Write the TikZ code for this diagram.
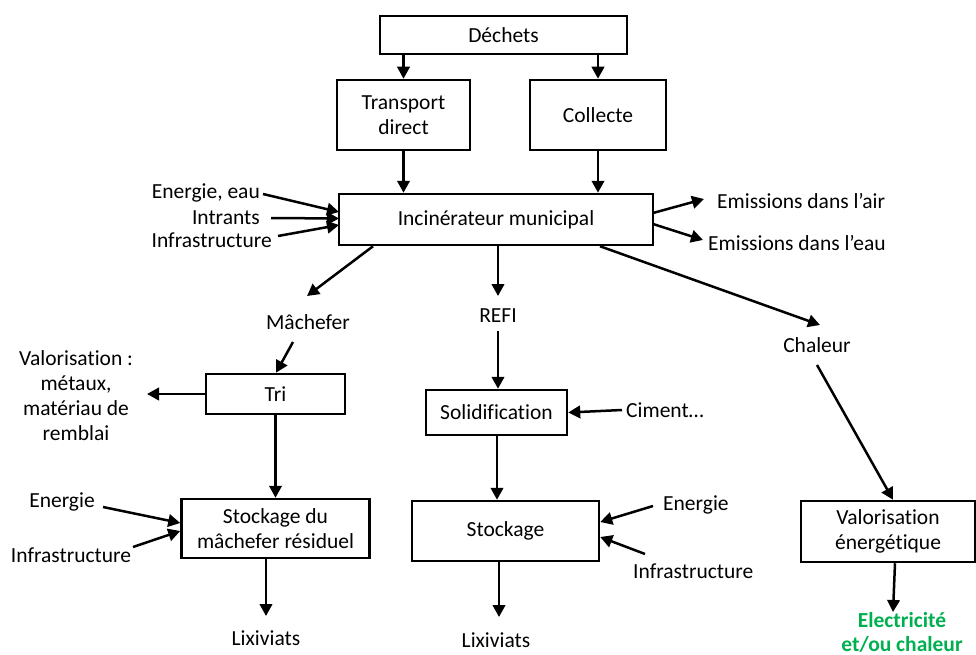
\documentclass[tikz,border=0pt]{standalone}
\usepackage{fontspec}
\setmainfont[Ligatures=NoCommon]{Carlito}
\usetikzlibrary{arrows.meta}
\definecolor{elecgreen}{RGB}{0,176,80}
\begin{document}
\begin{tikzpicture}[x=1pt,y=-1pt,
  every node/.style={font=\fontsize{21.5}{25}\selectfont, inner sep=0pt, align=center},
  box/.style={draw, line width=2.5pt},
  arr/.style={line width=2.5pt, -{Triangle[length=12pt,width=12.5pt]}}]
\useasboundingbox (0,0) rectangle (976,655);

% process boxes
\node[box, minimum width=247pt, minimum height=38pt] (dechets) at (503.5,35) {Déchets};
\node[box, minimum width=133pt, minimum height=70pt] (transport) at (403.5,115) {Transport\\direct};
\node[box, minimum width=136pt, minimum height=70pt] (collecte) at (598,115) {Collecte};
\node[box, minimum width=314pt, minimum height=51pt] (inc) at (496,219.5) {Incinérateur municipal};
\node[box, minimum width=139pt, minimum height=40pt] (tri) at (275.5,394) {Tri};
\node[box, minimum width=141pt, minimum height=45pt] (solid) at (496.5,412.5) {Solidification};
\node[box, minimum width=188pt, minimum height=59pt] (stmach) at (275.5,528.5) {Stockage du\\mâchefer résiduel};
\node[box, minimum width=187pt, minimum height=60pt] (stock) at (505.5,531) {Stockage};
\node[box, minimum width=174pt, minimum height=61pt] (valen) at (888,531.5) {Valorisation\\énergétique};

% flows and inputs
\node[anchor=east] (enEau) at (260,193) {Energie, eau};
\node[anchor=east] (intr) at (260,218) {Intrants};
\node[anchor=east] (infraA) at (272,240) {Infrastructure};
\node[anchor=west] (emAir) at (717,201) {Emissions dans l’air};
\node[anchor=west] (emEau) at (708,243) {Emissions dans l’eau};
\node (mach) at (308,322) {Mâchefer};
\node (refi) at (498,316) {REFI};
\node (chal) at (817,345) {Chaleur};
\node (valo) at (76,396) {Valorisation :\\métaux,\\matériau de\\remblai};
\node[anchor=west] (ciment) at (626,410) {Ciment…};
\node (enB) at (62,502) {Energie};
\node (infraB) at (71,555) {Infrastructure};
\node[anchor=west] (enC) at (663,505) {Energie};
\node[anchor=west] (infraC) at (633,571) {Infrastructure};
\node (lixA) at (266,638) {Lixiviats};
\node (lixB) at (496,640) {Lixiviats};
\node[text=elecgreen, font=\fontsize{21.5}{24}\selectfont\bfseries] (elec) at (902,632) {Electricité\\et/ou chaleur};

% free ends of the connectors
\coordinate (enEauS) at (263,194);
\coordinate (intrS) at (271,218);
\coordinate (infraAS) at (278,236);
\coordinate (incA) at (339,212);
\coordinate (incB) at (339,218.5);
\coordinate (incC) at (339,225);
\coordinate (incAir) at (653,213);
\coordinate (incEau) at (653,224);
\coordinate (airT) at (704,199);
\coordinate (eauT) at (703,240);
\coordinate (machT) at (307,296);
\coordinate (refiT) at (498,296);
\coordinate (chalT) at (820,325);
\coordinate (machS) at (293,342);
\coordinate (refiS) at (498,331);
\coordinate (chalS) at (817,365);
\coordinate (valoT) at (147,394);
\coordinate (cimentS) at (622,410);
\coordinate (enBS) at (103,507);
\coordinate (infraBS) at (133,547);
\coordinate (enCS) at (653,506);
\coordinate (infraCS) at (645,554);
\coordinate (lixAT) at (266,616);
\coordinate (lixBT) at (499,617);
\coordinate (elecT) at (893,612);

% connectors
\draw[arr] (dechets.south -| transport.north) -- (transport.north);
\draw[arr] (dechets.south -| collecte.north) -- (collecte.north);
\draw[arr] (transport.south) -- (inc.north -| transport.south);
\draw[arr] (collecte.south) -- (inc.north -| collecte.south);
\draw[arr] (enEauS) -- (incA);
\draw[arr] (intrS) -- (incB);
\draw[arr] (infraAS) -- (incC);
\draw[arr] (incAir) -- (airT);
\draw[arr] (incEau) -- (eauT);
\draw[arr] (inc.south -| 373,0) -- (machT);
\draw[arr] (inc.south -| refiT) -- (refiT);
\draw[arr] (inc.south -| 600,0) -- (chalT);
\draw[arr] (machS) -- (tri.north -| 276,0);
\draw[arr] (refiS) -- (solid.north -| refiS);
\draw[arr] (chalS) -- (valen.north -| 893,0);
\draw[arr] (tri.west) -- (valoT);
\draw[arr] (cimentS) -- (solid.east);
\draw[arr] (tri.south) -- (stmach.north -| tri.south);
\draw[arr] (solid.south -| 497,0) -- (stock.north -| 497,0);
\draw[arr] (enBS) -- (stmach.west |- 0,523);
\draw[arr] (infraBS) -- (stmach.west |- 0,531);
\draw[arr] (enCS) -- (stock.east |- 0,522);
\draw[arr] (infraCS) -- (stock.east |- 0,537);
\draw[arr] (stmach.south -| lixAT) -- (lixAT);
\draw[arr] (stock.south -| lixBT) -- (lixBT);
\draw[arr] (valen.south -| 895,0) -- (elecT);
\end{tikzpicture}
\end{document}
